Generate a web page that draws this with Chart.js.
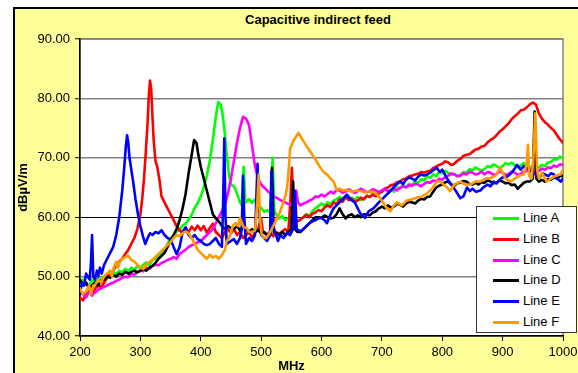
<!DOCTYPE html>
<html>
<head>
<meta charset="utf-8">
<script src="https://cdn.jsdelivr.net/npm/chart.js@4.4.1/dist/chart.umd.min.js"></script>
<style>
  html, body { margin: 0; padding: 0; background: #fff; overflow: hidden; }
  body { width: 578px; height: 373px; position: relative; font-family: "Liberation Sans", Arial, sans-serif; color: #000; }
  #frame { position: absolute; left: 13px; top: 7px; width: 700px; height: 500px; background: #ffff99; border: 2px solid #000; box-sizing: border-box; }
  #wrap { position: absolute; left: 0; top: 0; width: 578px; height: 373px; }
  #title { position: absolute; left: 0; width: 636px; top: 12px; text-align: center; font-weight: bold; font-size: 13px; line-height: 15px; }
  #xtitle { position: absolute; left: 0; width: 583px; top: 358px; text-align: center; font-weight: bold; font-size: 13px; line-height: 15px; }
  #legend { position: absolute; left: 476px; top: 206px; width: 101px; height: 127px; background: #fff; border: 1px solid #333; box-sizing: border-box; }
  #legend .row { position: absolute; left: 0; height: 16px; line-height: 16px; font-size: 13px; white-space: nowrap; }
  #legend .swatch { position: absolute; left: 16px; top: 7px; width: 26px; height: 3px; }
  #legend .txt { position: absolute; left: 46px; top: 0; }
</style>
</head>
<body>
<div id="frame"></div>
<div id="title">Capacitive indirect feed</div>
<div id="wrap"><canvas id="chart" width="578" height="373"></canvas></div>
<div id="xtitle">MHz</div>
<div id="legend"></div>
<script>
// Data (MHz, dBµV/m)
const seriesNames = ['Line A', 'Line B', 'Line C', 'Line D', 'Line E', 'Line F'];
const seriesColors = ['#00ff00', '#ff0000', '#ff00ff', '#000000', '#0000ff', '#ff9900'];
const xTicks = [200, 300, 400, 500, 600, 700, 800, 900, 1000];
const yTicks = [40, 50, 60, 70, 80, 90];

const lineA = [[200,48.5],[205,49.5],[210,49],[215,48.3],[220,49.5],[225,49],[230,49.8],[235,49.3],[240,50],[245,50.4],[250,49.9],[255,50.8],[260,50.4],[265,51],[270,50.7],[275,51.3],[280,50.9],[285,51.5],[290,51.1],[295,51.8],[300,51.4],[305,52],[310,52.4],[315,51.9],[320,52.8],[325,53],[330,53.6],[335,54],[340,54.6],[345,55.5],[350,56.5],[355,56.9],[360,57.6],[365,57.9],[370,58.6],[375,58.9],[380,59.6],[385,60.4],[390,61.6],[395,62.4],[400,63.5],[405,65],[410,67],[415,69.5],[420,73],[425,77],[429,79.4],[433,79],[436,77.5],[440,74],[443,70.5],[447,67],[450,65.5],[455,65.2],[460,64],[465,62.5],[468,62],[471,68.5],[474,62.5],[480,63],[485,62.4],[490,63],[495,62],[500,61.6],[505,60.9],[510,61.2],[515,60.8],[519,70],[522,61],[525,60.5],[530,59.8],[535,60.2],[540,59.5],[545,59.9],[550,59.4],[555,59.8],[560,59.3],[565,59.6],[570,60],[575,60.5],[580,60.2],[585,61],[590,61.5],[595,61.9],[600,62.3],[605,61.9],[610,62.5],[615,62.2],[620,62.8],[625,63],[630,63.4],[635,63.1],[640,63.6],[645,63.1],[650,63.3],[655,62.9],[660,63.4],[665,62.9],[670,63.1],[675,63.6],[680,63.4],[685,64],[690,63.9],[695,64.4],[700,64.2],[705,64.7],[710,64.4],[715,64.6],[720,64.3],[725,65],[730,64.9],[735,65.4],[740,65.1],[745,65.6],[750,65.4],[755,66],[760,65.8],[765,66.4],[770,66.2],[775,66.9],[780,66.6],[785,67.2],[790,66.9],[795,67.6],[800,67.4],[805,67.8],[810,67.4],[815,67.1],[820,67.3],[825,66.9],[830,67.1],[835,67.6],[840,67.4],[845,68.1],[850,67.9],[855,68.4],[860,68.1],[865,67.8],[870,68.1],[875,68.6],[880,68.4],[885,68.9],[890,68.6],[895,68.3],[900,68.6],[905,69.1],[910,68.9],[915,69.2],[920,68.8],[925,68.4],[930,68.7],[935,69.1],[940,68.7],[945,68.4],[950,68.6],[955,68.2],[960,68.4],[965,68.8],[970,68.6],[975,69.2],[980,69.3],[985,69.8],[990,69.7],[995,70.2],[1000,70]];

const lineB = [[200,46.5],[205,46],[210,47],[215,47.5],[220,46.8],[225,48],[230,48.5],[235,48.2],[240,49],[245,49.8],[250,50.5],[255,51],[260,51.8],[265,52.5],[270,53],[275,53.8],[280,54.5],[285,55.5],[290,56.5],[295,58],[300,60.5],[303,63],[306,66.5],[309,71],[312,76],[314,80.5],[316,83],[318,81.5],[320,77],[322,73],[325,69.5],[328,68.5],[332,66],[335,63.5],[340,62.5],[345,61.5],[350,60.5],[355,59.5],[360,58.5],[365,57.8],[370,57.3],[375,58],[380,57.5],[385,58.4],[390,57.8],[395,58.6],[400,57.8],[405,58.5],[410,57.4],[415,58.2],[420,58.9],[425,57.5],[430,57],[435,56.5],[440,57.5],[445,58],[450,57.3],[455,58],[460,57],[465,57.5],[470,56.5],[475,57],[480,57.5],[485,56.5],[490,57.5],[495,58],[500,59.8],[503,57.5],[510,57],[515,57.5],[520,56.8],[525,57.5],[530,57.2],[535,57.6],[540,58],[545,57.5],[548,62],[551,68.3],[553,62],[556,59],[560,59.3],[565,59.6],[570,60],[575,60.4],[580,60],[585,60.6],[590,60.8],[595,61.2],[600,61],[605,61.6],[610,62],[615,61.7],[620,62.5],[625,62.2],[630,63],[635,62.6],[640,63.4],[645,62.9],[650,63.1],[655,62.6],[660,62.8],[665,63.3],[670,63],[675,63.6],[680,63.4],[685,63.8],[690,63.5],[695,64],[700,64.3],[705,64.8],[710,65],[715,65.4],[720,65.5],[725,65.9],[730,66],[735,66.4],[740,66.5],[745,66.9],[750,67],[755,67.2],[760,67.3],[765,67.6],[770,67.5],[775,67.7],[780,67.8],[785,68.3],[790,68.5],[795,68.8],[800,69],[805,69.4],[810,69.2],[815,68.8],[820,69],[825,69.5],[830,69.8],[835,70.3],[840,70.5],[845,70.6],[850,71],[855,71.4],[860,71.5],[865,71.9],[870,72],[875,72.6],[880,73],[885,73.3],[890,73.8],[895,74.4],[900,74.8],[905,75.3],[910,75.8],[915,76.5],[920,77],[925,77.4],[930,78],[935,78.1],[940,78.5],[945,79],[950,79.3],[955,79],[960,77.5],[965,76.6],[970,76],[975,75.6],[980,75],[985,74.6],[990,73.8],[995,73.1],[1000,72.5]];

const lineC = [[200,47.5],[205,47],[210,46.5],[215,47.5],[220,47],[225,47.3],[230,47.8],[235,48],[240,48.3],[245,48.5],[250,48.8],[255,49],[260,49.3],[265,49.5],[270,49.8],[275,50],[280,49.9],[285,50.5],[290,50.3],[295,50.8],[300,51],[305,50.9],[310,51.5],[315,51.3],[320,51.8],[325,52],[330,51.9],[335,52.3],[340,52.5],[345,52.8],[350,53],[355,53.3],[360,53],[365,53.8],[370,54.2],[375,54.5],[380,55],[385,55.3],[390,55.5],[395,55.8],[400,56],[405,56.5],[410,57],[415,57.5],[420,58],[425,59],[430,60],[435,61],[440,62],[445,64],[450,66.5],[455,69.5],[460,72.5],[465,75],[470,76.9],[475,76.6],[480,75.5],[485,72],[490,68.5],[495,66.5],[500,65.5],[505,65],[510,64.5],[515,64],[520,63.5],[525,63.3],[530,63],[535,62.7],[540,62.5],[545,62.2],[550,62],[555,62.5],[558,64.5],[561,62.5],[565,62],[570,62.3],[575,62.5],[580,62.8],[585,63],[590,63.5],[595,63.4],[600,63.8],[605,63.5],[610,63.9],[615,64.3],[620,64],[625,64.6],[630,64.5],[635,64.1],[640,64.3],[645,64.7],[650,64.4],[655,64.1],[660,64.4],[665,64.8],[670,64.5],[675,64.2],[680,64.4],[685,64.7],[690,64.5],[695,64.2],[700,64.5],[705,64.8],[710,64.3],[715,64.6],[720,64.8],[725,64.5],[730,64.9],[735,65.2],[740,65],[745,65.4],[750,65.3],[755,65.6],[760,65.5],[765,65.2],[770,65.6],[775,65.9],[780,65.8],[785,66.2],[790,66],[795,66.5],[800,66.3],[805,66.8],[810,67],[815,67.4],[820,67.2],[825,66.9],[830,67],[835,67.4],[840,67.2],[845,67.6],[850,67.5],[855,67.2],[860,67.3],[865,67.7],[870,67.2],[875,67.6],[880,67.5],[885,67.1],[890,67.3],[895,67.7],[900,67.5],[905,67.1],[910,67.3],[915,67.7],[920,67.5],[925,67.1],[930,67.3],[935,67.7],[940,67.8],[945,68.1],[950,68],[955,67.6],[960,67.8],[965,68.2],[970,68],[975,68.4],[980,68.3],[985,68.7],[990,68.5],[995,68.9],[1000,68.8]];

const lineD = [[200,49.5],[205,48.5],[210,49],[215,48],[220,48.5],[225,49],[230,48.5],[235,49.3],[240,49.5],[245,50],[250,49.8],[255,50.3],[260,50],[265,50.5],[270,50.3],[275,50.8],[280,50.5],[285,50.8],[290,51],[295,50.7],[300,51],[305,51.3],[310,51],[315,51.5],[320,51.8],[325,52.3],[330,53],[335,53.5],[340,54],[345,55],[350,56],[355,57],[360,58],[365,59.5],[370,61.5],[375,64],[380,67.5],[385,70.5],[389,73],[393,72.5],[396,70.5],[400,68.5],[405,66.5],[410,64.5],[415,62.5],[420,60.5],[425,59.8],[430,59.3],[435,58.5],[440,58],[445,58.5],[450,58.2],[455,58],[460,58.5],[465,57.8],[470,58.5],[475,58],[480,57.5],[485,58],[490,57.5],[495,57.8],[500,57.3],[505,57.5],[510,57],[515,57.5],[518,68.3],[521,57.5],[525,57.3],[530,57],[535,57.5],[540,57],[545,57.5],[550,58],[553,66],[556,58],[560,57.5],[565,57.5],[570,58],[575,58.5],[580,59],[585,59.5],[590,60],[595,60],[600,59.9],[605,60.3],[610,60],[615,59.8],[620,59.9],[625,60.5],[630,61.5],[635,60.5],[640,59.8],[645,60.3],[650,60.5],[655,60],[660,60.3],[665,60],[670,60.5],[675,60.5],[680,60.3],[685,60.8],[690,61],[695,61.5],[700,61.8],[705,61.5],[710,62],[715,61.6],[720,61.8],[725,62.3],[730,62.1],[735,61.8],[740,62.3],[745,62.6],[750,62.5],[755,62.3],[760,62.8],[765,63.1],[770,63],[775,63.4],[780,63.5],[785,64.3],[790,65],[795,65.3],[800,65.5],[805,65.9],[810,66],[815,65.5],[820,65.3],[825,65.7],[830,65.8],[835,66.1],[840,66],[845,65.6],[850,65.5],[855,65.8],[860,65.5],[865,65.9],[870,65.8],[875,66.2],[880,66],[885,65.7],[890,65.8],[895,66.2],[900,66],[905,65.7],[910,65.8],[915,65.4],[920,65.5],[925,64.8],[930,65.3],[935,65.8],[940,66],[945,66],[950,66.5],[953,77.8],[956,66.5],[960,66],[965,66.3],[970,66],[975,66.4],[980,66.3],[985,66.7],[990,66.5],[995,66.9],[1000,67]];

const lineE = [[200,47],[203,49],[207,48.5],[210,50.5],[213,50],[216,49.5],[218,52],[220,57],[222,50],[225,49.5],[228,51],[230,50],[233,51.5],[236,50.5],[240,52],[245,53],[250,54],[255,55],[260,57],[265,60],[270,64.5],[273,68],[276,72],[278,73.8],[280,72.5],[282,70],[285,68],[288,66],[292,63],[296,60.5],[300,58.5],[305,56.5],[308,55.5],[312,56.5],[316,57.3],[320,57],[325,57.5],[330,57.3],[335,57.8],[340,57],[345,56.5],[350,56.3],[355,55],[360,53.8],[365,55],[370,57.5],[375,58.3],[380,57],[385,56.5],[390,57],[395,56.3],[400,56],[405,55.5],[410,55.3],[415,55.5],[420,56],[425,56.5],[430,55.5],[435,55],[437,62],[439,73.3],[441,60],[443,55.5],[450,56],[455,56.3],[460,55.5],[465,56.5],[468,58],[470,67],[472,60],[475,55.5],[480,56.5],[485,56],[490,57],[492,63],[494,69],[496,62],[500,57],[505,56.5],[510,56],[515,57],[517,67.7],[519,59],[523,57.5],[528,56],[532,57],[537,56.5],[543,57.3],[548,57],[553,58],[556,64.4],[559,58],[565,57.6],[570,58],[575,58.5],[580,59],[585,59.3],[590,59.5],[595,59.8],[600,59.9],[605,59.5],[609,59],[615,60.5],[620,61.5],[625,62],[630,62.5],[635,63],[642,63.8],[648,63],[655,62.5],[660,61.5],[665,60.5],[672,59.9],[678,61],[686,61.5],[695,62.5],[700,63],[708,63.8],[715,64.5],[722,65.3],[730,66],[735,65.6],[740,66.3],[745,66.7],[750,66.5],[755,66.2],[760,66.8],[765,67.2],[770,67],[775,67.2],[780,67.5],[785,67.9],[791,68.3],[796,67.6],[800,68],[808,66.5],[815,65.5],[822,64.5],[830,63.2],[835,63.5],[841,65],[846,64.4],[850,64.8],[856,64.3],[863,64.5],[869,65.1],[875,65.5],[880,65.2],[885,66],[890,65.7],[895,66.3],[900,66.7],[907,66.8],[912,67.2],[915,67.5],[920,68.2],[924,68.8],[930,68],[935,68.6],[940,68.3],[945,67.8],[950,67.5],[956,67.1],[962,66.8],[966,67.4],[970,67.2],[976,66.9],[980,67.4],[985,67.2],[990,66.5],[996,66],[1000,66.5]];

const lineF = [[200,48],[205,47],[210,47.5],[215,48.5],[218,47],[222,48.5],[225,48.6],[230,49.5],[235,49],[240,50],[245,50.5],[250,51],[253,50],[256,51.5],[260,52.5],[263,51.5],[266,52.5],[270,53],[275,53.3],[280,53.5],[285,52.8],[290,52.5],[295,52],[300,51.5],[305,51.3],[310,52],[315,52.5],[320,52.8],[325,53.3],[330,53.8],[335,54.3],[340,54.8],[345,55.3],[350,55.8],[355,56.5],[360,57],[365,56.8],[370,57.3],[375,57.6],[380,57.3],[385,56.5],[390,55.5],[395,54.5],[400,54],[405,53.5],[410,53],[415,53.7],[420,53.2],[425,53.5],[430,53],[435,53.6],[440,54.5],[443,56],[447,56.5],[450,57.5],[454,58.7],[458,59],[462,58.5],[465,59.9],[468,59],[471,58.3],[476,58.2],[480,57.5],[485,57.5],[490,57.8],[494,63],[496,67.2],[498,60],[501,57],[505,56.5],[509,56.5],[515,57.5],[520,58.5],[525,59.5],[530,60.5],[535,62],[540,63.5],[543,65],[546,68.5],[548,71.5],[552,72.5],[556,73.3],[562,74.2],[566,73.5],[570,72.8],[575,72],[581,71.1],[586,70.3],[592,69.4],[597,68.5],[603,67.7],[609,67.2],[615,66.5],[620,66],[625,64.6],[630,64.8],[635,64.5],[642,64.6],[650,64.3],[658,64.5],[664,64.4],[672,64.2],[680,64.3],[686,64.3],[692,63.8],[697,63.2],[703,62.3],[708,61.5],[714,61],[720,62],[725,62.5],[733,62],[741,62.8],[750,63],[758,63.3],[766,63.5],[775,64],[783,64.8],[791,66],[797,66],[802,65.5],[808,65],[813,64.4],[820,65.5],[830,66],[838,65.5],[846,65.5],[855,66],[863,66],[872,66.5],[880,66.6],[888,67],[896,68.3],[905,66.5],[913,66],[920,66.5],[928,67],[935,67.2],[940,69],[942,72.2],[944,67],[948,66.5],[951,70],[954,77.5],[957,68],[960,66.5],[965,67.5],[973,66],[980,66.5],[988,67],[996,67.2],[1000,68]];

const seriesData = [lineA, lineB, lineC, lineD, lineE, lineF];

// white plot area with grey frame, drawn under the lines
const plotBg = {
  id: 'plotBg',
  beforeDraw(chart) {
    const { ctx, chartArea: a } = chart;
    ctx.save();
    ctx.fillStyle = '#fff';
    ctx.fillRect(a.left, a.top, a.right - a.left, a.bottom - a.top);
    ctx.strokeStyle = '#808080';
    ctx.lineWidth = 1.5;
    ctx.strokeRect(a.left, a.top, a.right - a.left, a.bottom - a.top);
    ctx.restore();
  }
};

const font = { family: '"Liberation Sans", Arial, sans-serif', size: 13 };

new Chart(document.getElementById('chart'), {
  type: 'line',
  data: {
    datasets: seriesNames.map((name, i) => ({
      label: name,
      data: seriesData[i].map(p => ({ x: p[0], y: p[1] })),
      borderColor: seriesColors[i],
      backgroundColor: seriesColors[i],
      borderWidth: 2.6,
      borderJoinStyle: 'round',
      borderCapStyle: 'round',
      pointRadius: 0,
      tension: 0,
      fill: false,
      order: seriesNames.length - i
    }))
  },
  options: {
    responsive: false,
    animation: false,
    events: [],
    layout: { padding: { left: 15, right: 15, top: 39, bottom: 0 } },
    plugins: { legend: { display: false }, title: { display: false }, tooltip: { enabled: false } },
    scales: {
      x: {
        type: 'linear',
        min: 200, max: 1000,
        afterBuildTicks: s => { s.ticks = xTicks.map(v => ({ value: v })); },
        afterFit: s => { s.height = 37; s.paddingLeft = 0; s.paddingRight = 0; },
        grid: { drawOnChartArea: false, drawTicks: true, tickLength: 5, tickColor: '#000', tickWidth: 1 },
        border: { color: '#000', width: 1.5 },
        ticks: { color: '#000', font, padding: 4, maxRotation: 0, callback: v => String(v) }
      },
      y: {
        min: 40, max: 90,
        afterBuildTicks: s => { s.ticks = yTicks.map(v => ({ value: v })); },
        afterFit: s => { s.width = 65; },
        grid: {
          color: c => (c.tick && c.tick.value === 60 ? '#000' : '#808080'),
          lineWidth: c => (c.tick && c.tick.value === 60 ? 1 : 1.5),
          drawTicks: true, tickLength: 5, tickColor: '#000', tickWidth: 1
        },
        border: { color: '#000', width: 1.5 },
        ticks: { color: '#000', font, padding: 5, callback: v => Number(v).toFixed(2) },
        title: { display: true, text: 'dBµV/m', color: '#000', font: { ...font, weight: 'bold' }, padding: { top: 1, bottom: 0 } }
      }
    }
  },
  plugins: [plotBg]
});

// legend box overlapping the plot, as in the reference
const legend = document.getElementById('legend');
seriesNames.forEach((name, i) => {
  const row = document.createElement('div');
  row.className = 'row';
  row.style.top = (3 + i * 20.8) + 'px';
  row.innerHTML = '<span class="swatch" style="background:' + seriesColors[i] + '"></span><span class="txt">' + name + '</span>';
  legend.appendChild(row);
});
</script>
</body>
</html>
